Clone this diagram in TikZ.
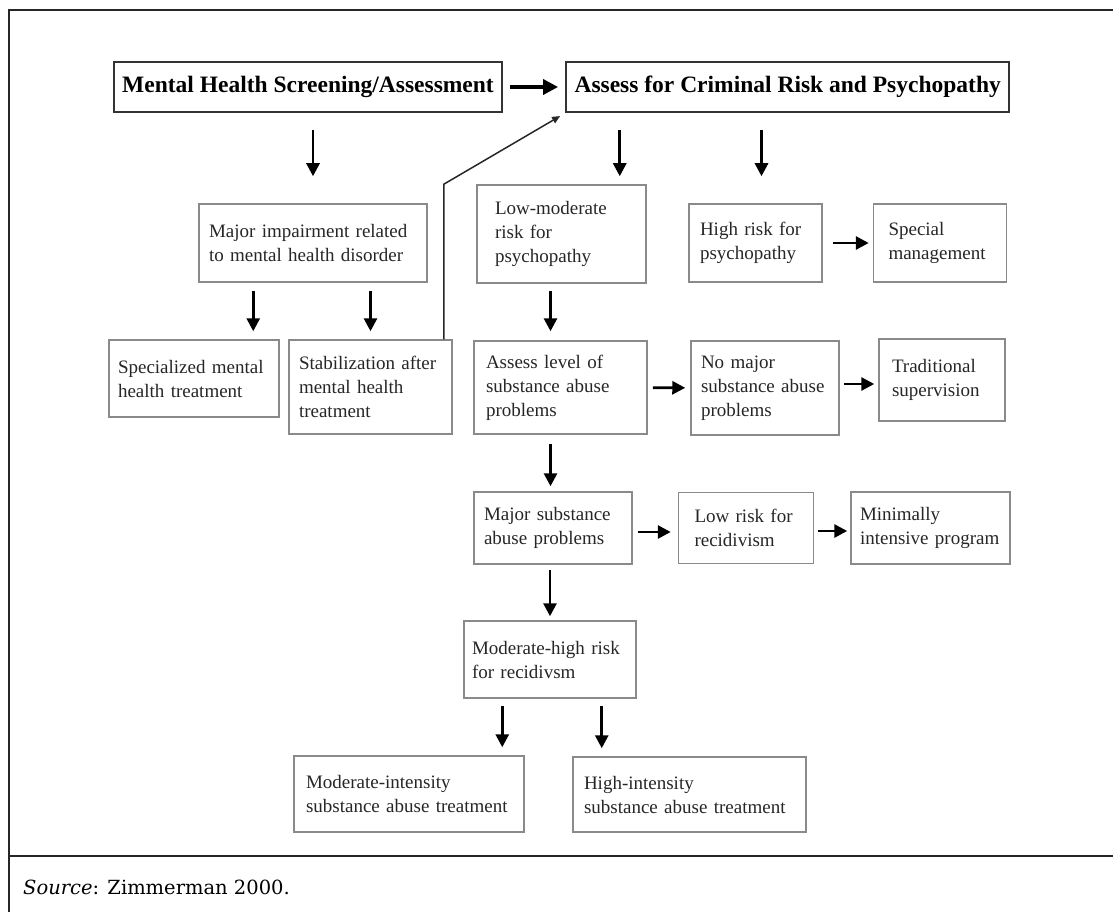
\documentclass[tikz,border=0pt]{standalone}
\usepackage{fontspec}
\setmainfont{Liberation Serif}
\newfontfamily\srcfont{DejaVu Serif}
\usetikzlibrary{positioning, arrows.meta}
\definecolor{boxline}{HTML}{8A8A8A}
\definecolor{boxtext}{HTML}{262626}
\tikzset{
  stage/.style={draw=boxline, line width=1.5pt, text=boxtext, align=left, font=\fontsize{19}{24}\selectfont, inner xsep=10pt, inner ysep=0pt},
  headbox/.style={draw=black!80, line width=2.2pt, text=black, font=\fontsize{23.5}{28}\selectfont\bfseries, minimum height=50pt, inner xsep=8pt},
  arr/.style={draw=black, line width=2.8pt, -{Triangle[width=13pt,length=13pt]}},
  bigarr/.style={draw=black, line width=3.4pt, -{Triangle[width=15pt,length=15pt]}},
  thinarr/.style={draw=black!85, line width=1.5pt, -{Triangle[width=7pt,length=8pt]}},
  frame/.style={draw=black!85, line width=2pt}
}

\begin{document}
\begin{tikzpicture}[x=1pt, y=-1pt]
  \useasboundingbox (0,0) rectangle (1113,912);
  % Frame
  \draw[frame] (9,912) -- (9,10) -- (1113,10);
  \draw[frame] (9,856) -- (1113,856);

  % Nodes
  \node (mhs) [headbox, minimum width=388pt] at (308,87) {Mental Health Screening/Assessment};
  \node (crim) [headbox, minimum width=443pt, right=62pt of mhs] {Assess for Criminal Risk and Psychopathy};

  \node (impair) [stage, text width=208pt, minimum height=78pt] at (313,243) {Major impairment related\\to mental health disorder};
  \node (spec) [stage, inner xsep=9pt, text width=152pt, minimum height=77pt] at (194,378.5) {Specialized mental\\health treatment};
  \node (stab) [stage, text width=143pt, minimum height=94pt] at (370.5,387) {Stabilization after\\mental health\\treatment};
  \node (lowmod) [stage, inner xsep=18pt, text width=133pt, minimum height=98pt] at (561.5,234) {Low-moderate\\risk for\\psychopathy};
  \node (high) [stage, inner xsep=11pt, text width=111pt, minimum height=78pt] at (755.5,243) {High risk for\\psychopathy};
  \node (special) [stage, inner xsep=15pt, text width=103pt, minimum height=78pt, right=50pt of high] {Special\\management};
  \node (assess) [stage, inner xsep=12pt, text width=149pt, minimum height=93pt] at (560.5,387.5) {Assess level of\\substance abuse\\problems};
  \node (nomajor) [stage, text width=128pt, minimum height=94pt] at (765,388) {No major\\substance abuse\\problems};
  \node (trad) [stage, inner xsep=13pt, text width=100pt, minimum height=82pt] at (942,380) {Traditional\\supervision};
  \node (majsub) [stage, text width=138pt, minimum height=72pt] at (553,528) {Major substance\\abuse problems};
  \node (lowrisk) [stage, inner xsep=16pt, text width=103pt, minimum height=71pt, right=45pt of majsub] {Low risk for\\recidivism};
  \node (minimal) [stage, inner xsep=9pt, text width=141pt, minimum height=72pt, right=36pt of lowrisk] {Minimally\\intensive program};
  \node (modhigh) [stage, inner xsep=8pt, text width=156pt, minimum height=77pt] at (550,659.5) {Moderate-high risk\\for recidivsm};
  \node (modint) [stage, inner xsep=12pt, text width=206pt, minimum height=76pt] at (409,794) {Moderate-intensity\\substance abuse treatment};
  \node (highint) [stage, inner xsep=11pt, text width=211pt, minimum height=75pt] at (689.5,794.5) {High-intensity\\substance abuse treatment};

  \node (src) [anchor=base west, inner sep=0pt, font=\srcfont\fontsize{19.5}{23}\selectfont] at (23,894) {\textit{Source}: Zimmerman 2000.};

  % Arrows
  \draw[bigarr, shorten <=7pt, shorten >=7pt] (mhs) -- (crim);
  \draw[arr, shorten <=17pt, shorten >=27pt] (impair.north |- mhs.south) -- (impair.north);
  \draw[arr, shorten <=17pt, shorten >=8pt] ([xshift=-27pt]lowmod.north east |- crim.south) -- ([xshift=-27pt]lowmod.north east);
  \draw[arr, shorten <=17pt, shorten >=27pt] ([xshift=6pt]high.north |- crim.south) -- ([xshift=6pt]high.north);
  \draw[arr, shorten <=8pt, shorten >=8pt] ([xshift=55pt]impair.south west) -- ([xshift=55pt]impair.south west |- spec.north);
  \draw[arr, shorten <=8pt, shorten >=8pt] (stab.north |- impair.south) -- (stab.north);
  \draw[arr, shorten <=7pt, shorten >=9pt] ([xshift=-11pt]lowmod.south) -- ([xshift=-11pt]lowmod.south |- assess.north);
  \draw[arr, shorten <=10pt, shorten >=4pt] (high) -- (special);
  \draw[arr, shorten <=5pt, shorten >=5pt] (assess) -- (nomajor);
  \draw[arr, shorten <=4pt, shorten >=4pt] ([yshift=4pt]nomajor.east) -- ([yshift=4pt]nomajor.east -| trad.west);
  \draw[arr, shorten <=9pt, shorten >=5pt] ([xshift=-10pt]assess.south) -- ([xshift=-10pt]assess.south |- majsub.north);
  \draw[arr, shorten <=5pt, shorten >=7pt] ([yshift=-4pt]majsub.east) -- ([yshift=-4pt]majsub.east -| lowrisk.west);
  \draw[arr, shorten <=4pt, shorten >=3pt] ([yshift=-3pt]lowrisk.east) -- ([yshift=-3pt]lowrisk.east -| minimal.west);
  \draw[arr, shorten <=5pt, shorten >=4pt] (modhigh.north |- majsub.south) -- (modhigh.north);
  \draw[arr, shorten <=7pt, shorten >=8pt] ([xshift=39pt]modhigh.south west) -- ([xshift=39pt]modhigh.south west |- modint.north);
  \draw[arr, shorten <=7pt, shorten >=8pt] ([xshift=-35pt]modhigh.south east) -- ([xshift=-35pt]modhigh.south east |- highint.north);

  % Back to risk assessment
  \coordinate (turn) at ([xshift=-9pt]stab.north east |- lowmod.north);
  \draw[thinarr] ([xshift=-9pt]stab.north east) -- (turn) -- ([xshift=-5pt,yshift=-3pt]crim.south west);
\end{tikzpicture}
\end{document}
